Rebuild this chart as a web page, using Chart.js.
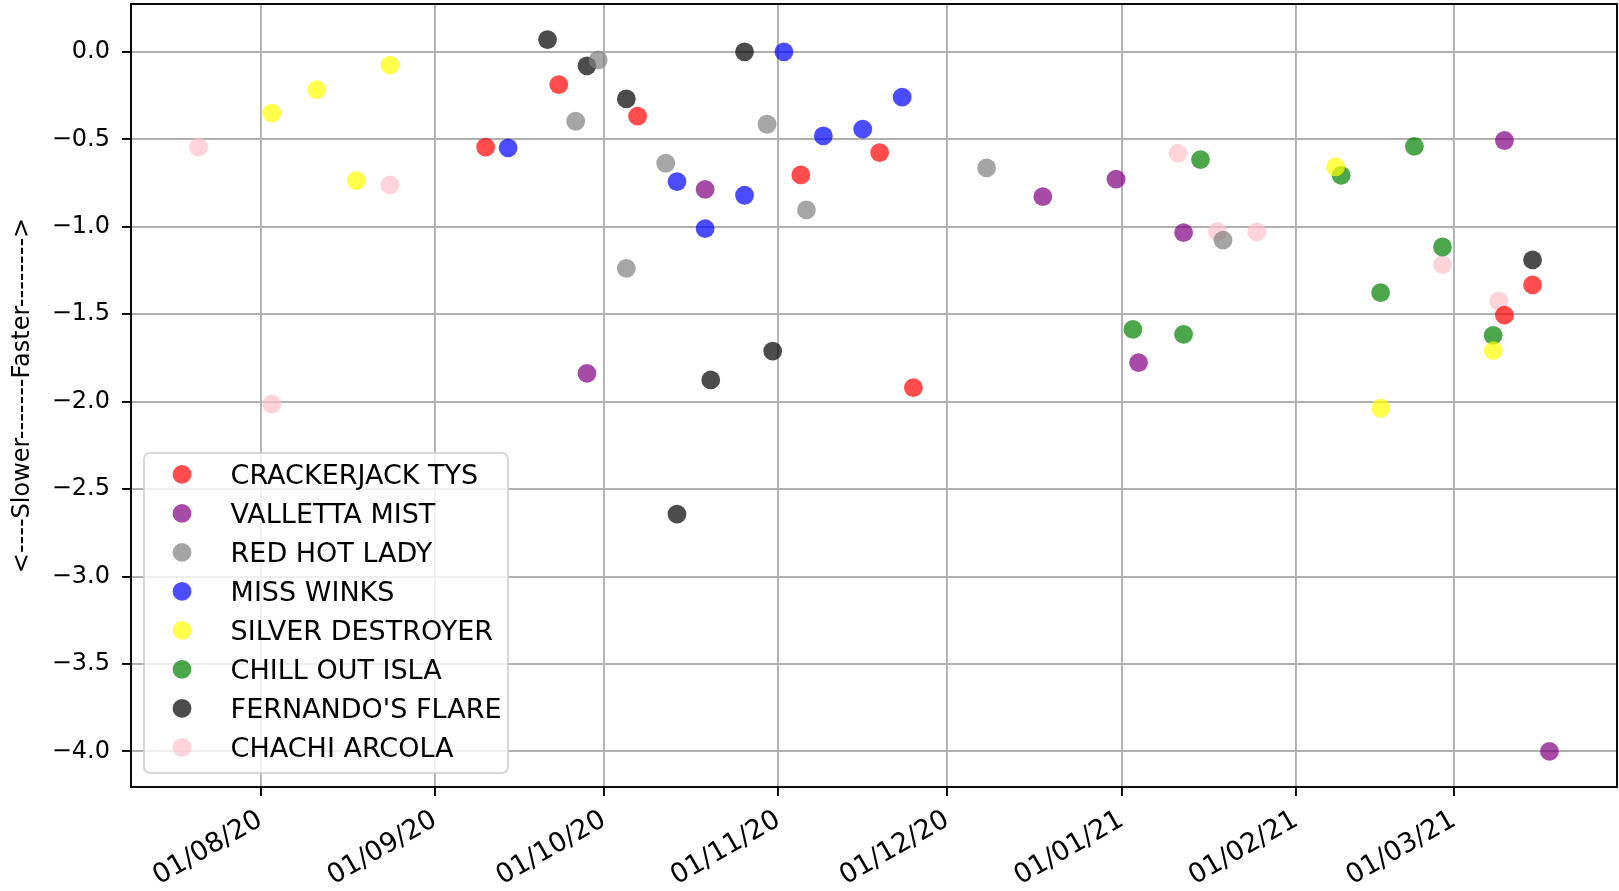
<!DOCTYPE html>
<html>
<head>
<meta charset="utf-8">
<script src="https://cdn.jsdelivr.net/npm/chart.js@4.4.1/dist/chart.umd.min.js"></script>
<style>
	body { margin: 0; background: #fff; }
	#wrap { width: 1619px; height: 891px; }
</style>
</head>
<body>
<div id="wrap"><canvas id="myChart" width="1619" height="891"></canvas></div>
<script>
const 	horses = ['CRACKERJACK TYS', 'VALLETTA MIST', 'RED HOT LADY', 'MISS WINKS',
				'SILVER DESTROYER', 'CHILL OUT ISLA', "FERNANDO'S FLARE", 'CHACHI ARCOLA'],
		horseColours = ['rgba(255,0,0,0.7)', 'rgba(128,0,128,0.7)', 'rgba(128,128,128,0.7)', 'rgba(0,0,255,0.7)',
				'rgba(255,255,0,0.7)', 'rgba(0,128,0,0.7)', 'rgba(0,0,0,0.7)', 'rgba(255,192,203,0.7)'];

// race dates and time differences per horse
const 	crackerjackDates = ['2020-09-10', '2020-09-23', '2020-10-07', '2020-11-05', '2020-11-19', '2020-11-25', '2021-03-10', '2021-03-15'],
		crackerjackVals  = [-0.545, -0.187, -0.368, -0.704, -0.576, -1.920, -1.506, -1.333];
const 	vallettaDates = ['2020-09-28', '2020-10-19', '2020-12-18', '2020-12-31', '2021-01-04', '2021-01-12', '2021-03-10', '2021-03-18'],
		vallettaVals  = [-1.838, -0.786, -0.828, -0.728, -1.777, -1.034, -0.507, -4.0];
const 	redHotDates = ['2020-09-26', '2020-09-30', '2020-10-05', '2020-10-12', '2020-10-30', '2020-11-06', '2020-12-08', '2021-01-19'],
		redHotVals  = [-0.397, -0.046, -1.238, -0.637, -0.414, -0.904, -0.664, -1.077];
const 	winksDates = ['2020-09-14', '2020-10-14', '2020-10-19', '2020-10-26', '2020-11-02', '2020-11-09', '2020-11-16', '2020-11-23'],
		winksVals  = [-0.549, -0.742, -1.011, -0.820, 0.0, -0.481, -0.442, -0.259];
const 	silverDates = ['2020-08-03', '2020-08-11', '2020-08-18', '2020-08-24', '2021-02-08', '2021-02-16', '2021-03-08'],
		silverVals  = [-0.351, -0.216, -0.736, -0.076, -0.658, -2.038, -1.709];
const 	chillDates = ['2021-01-03', '2021-01-12', '2021-01-15', '2021-02-09', '2021-02-16', '2021-02-22', '2021-02-27', '2021-03-08'],
		chillVals  = [-1.587, -1.615, -0.616, -0.706, -1.377, -0.540, -1.116, -1.621];
const 	fernandoDates = ['2020-09-21', '2020-09-28', '2020-10-05', '2020-10-14', '2020-10-20', '2020-10-26', '2020-10-31', '2021-03-15'],
		fernandoVals  = [0.070, -0.080, -0.269, -2.643, -1.876, 0.0, -1.711, -1.190];
const 	chachiDates = ['2020-07-21', '2020-08-03', '2020-08-24', '2021-01-11', '2021-01-18', '2021-01-25', '2021-02-27', '2021-03-09'],
		chachiVals  = [-0.545, -2.014, -0.761, -0.580, -1.028, -1.030, -1.217, -1.426];

// axis ticks
const 	xTickDates  = ['2020-08-01', '2020-09-01', '2020-10-01', '2020-11-01', '2020-12-01', '2021-01-01', '2021-02-01', '2021-03-01'],
		xTickLabels = ['01/08/20', '01/09/20', '01/10/20', '01/11/20', '01/12/20', '01/01/21', '01/02/21', '01/03/21'],
		yTicks = [0, -0.5, -1, -1.5, -2, -2.5, -3, -3.5, -4];
const 	yLabel = '<----Slower-------Faster-------->';

const allDates = [crackerjackDates, vallettaDates, redHotDates, winksDates, silverDates, chillDates, fernandoDates, chachiDates],
	  allVals  = [crackerjackVals, vallettaVals, redHotVals, winksVals, silverVals, chillVals, fernandoVals, chachiVals];

const FONT = '"DejaVu Sans", sans-serif';

function toDay(s){
	const p = s.split('-');
	return Date.UTC(+p[0], +p[1] - 1, +p[2]) / 864e5;
}

// matplotlib style 5% margins
function padded(arr){
	const lo = Math.min(...arr), hi = Math.max(...arr), m = (hi - lo) * 0.05;
	return [lo - m, hi + m];
}

// stop chart.js from reserving room for edge labels
function noEdgePadding(s){
	s.paddingTop = 0; s.paddingBottom = 0;
	s.paddingLeft = 0; s.paddingRight = 0;
}

function getChartData(){
	return {
		datasets: horses.map((name, i) => ({
			label: name,
			data: allDates[i].map((d, j) => ({ x: toDay(d), y: allVals[i][j] })),
			backgroundColor: horseColours[i],
			borderWidth: 0,
			pointRadius: 9.4,
			pointHoverRadius: 9.4
		}))
	}
}

// black box round the plot
const frame = {
	id: 'frame',
	afterDatasetsDraw(chart){
		const {ctx, chartArea: a} = chart;
		ctx.save();
		ctx.strokeStyle = '#000';
		ctx.lineWidth = 1.9;
		ctx.strokeRect(a.left, a.top, a.right - a.left, a.bottom - a.top);
		ctx.restore();
	}
};

// legend in lower left corner, inside the plot
const boxLegend = {
	id: 'boxLegend',
	afterDraw(chart){
		const {ctx, chartArea: a} = chart;
		const w = 364, h = 320, x = a.left + 13, y = a.bottom - 14 - h;
		ctx.save();
		ctx.beginPath();
		ctx.roundRect(x, y, w, h, 6);
		ctx.fillStyle = 'rgba(255,255,255,0.8)';
		ctx.fill();
		ctx.strokeStyle = 'rgba(204,204,204,0.8)';
		ctx.lineWidth = 2;
		ctx.stroke();
		ctx.font = '27px ' + FONT;
		ctx.textBaseline = 'alphabetic';
		chart.data.datasets.forEach((ds, i) => {
			const cy = y + 21.4 + i * 39;
			ctx.beginPath();
			ctx.arc(x + 38, cy, 9.4, 0, 2 * Math.PI);
			ctx.fillStyle = ds.backgroundColor;
			ctx.fill();
			ctx.fillStyle = '#000';
			ctx.fillText(ds.label, x + 86.6, cy + 9.8);
		});
		ctx.restore();
	}
};

function getChartOptions(){
	const xr = padded(allDates.flat().map(toDay)),
		  yr = padded(allVals.flat());
	return {
		responsive: false,
		animation: false,
		layout: { autoPadding: false, padding: { top: 4, right: 2, bottom: 0, left: 0 } },
		plugins: {
			legend: { display: false },
			tooltip: { enabled: false }
		},
		scales: {
			x: {
				type: 'linear',
				bounds: 'data',
				min: xr[0],
				max: xr[1],
				afterBuildTicks: s => { s.ticks = xTickDates.map(d => ({ value: toDay(d) })); },
				afterFit: s => { s.height = 104; noEdgePadding(s); },
				border: { display: false },
				grid: { color: '#b0b0b0', lineWidth: 1.9, tickColor: '#000', tickLength: 9, tickWidth: 1.9 },
				ticks: {
					autoSkip: false,
					minRotation: 30,
					maxRotation: 30,
					padding: 8,
					color: '#000',
					font: { family: FONT, size: 27 },
					callback: v => xTickLabels[xTickDates.map(toDay).indexOf(v)]
				}
			},
			y: {
				type: 'linear',
				bounds: 'data',
				min: yr[0],
				max: yr[1],
				afterBuildTicks: s => { s.ticks = yTicks.map(v => ({ value: v })); },
				afterFit: s => { s.width = 131; noEdgePadding(s); },
				border: { display: false },
				grid: { color: '#b0b0b0', lineWidth: 1.9, tickColor: '#000', tickLength: 9, tickWidth: 1.9 },
				title: {
					display: true,
					text: yLabel,
					color: '#000',
					font: { family: FONT, size: 24 },
					padding: { top: 8, bottom: 0 }
				},
				ticks: {
					padding: 12,
					color: '#000',
					font: { family: FONT, size: 24 },
					callback: v => (v === 0 ? '0.0' : v.toFixed(1).replace('-', '\u2212'))
				}
			}
		}
	}
}

window.onload = ()=>{
	const ctx = document.getElementById('myChart');
	new Chart(ctx, {
		type: 'scatter',
		data: getChartData(),
		options: getChartOptions(),
		plugins: [frame, boxLegend]
	});
}
</script>
</body>
</html>
